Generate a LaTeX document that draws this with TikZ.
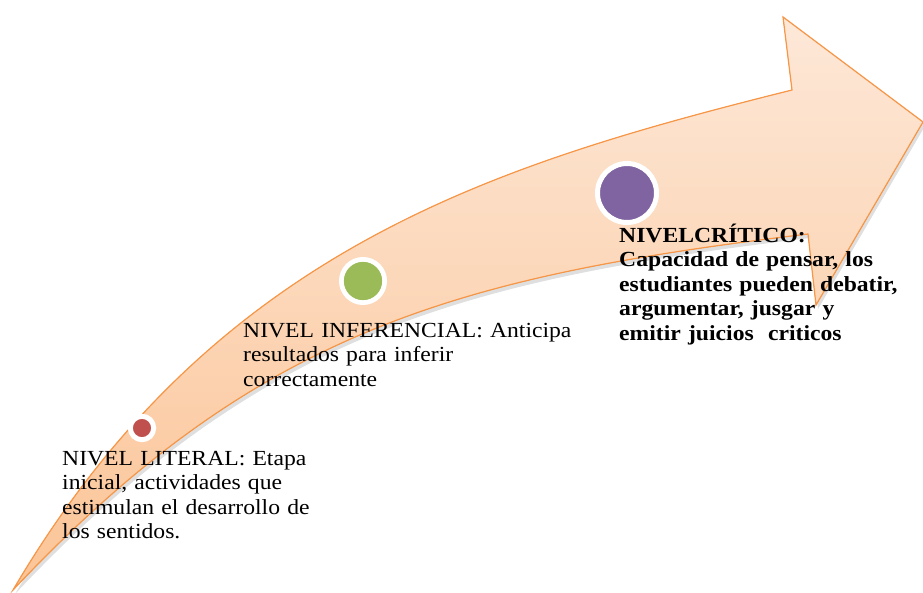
\documentclass[tikz,border=0pt]{standalone}
\usepackage{fontspec}
\setmainfont{Liberation Serif}[FakeStretch=1.1]
\usepackage{tikz}
\usetikzlibrary{shadows}
\definecolor{arrowLine}{RGB}{247,150,70}
\definecolor{arrowTop}{RGB}{253,232,216}
\definecolor{arrowBottom}{RGB}{251,196,150}
\definecolor{dotRed}{RGB}{192,80,77}
\definecolor{dotGreen}{RGB}{155,187,89}
\definecolor{dotViolet}{RGB}{128,100,162}

\begin{document}
\begin{tikzpicture}[x=1pt, y=-1pt,
    dot/.style={circle, draw=white, line width=5pt, inner sep=0pt},
    leveltext/.style={anchor=base west, inner sep=0pt, text width=400pt, align=left,
      font=\fontsize{21.5}{24.6}\selectfont}]

  \useasboundingbox (0,0) rectangle (923,592);

  \coordinate (T) at (13,590);
  \coordinate (A) at (792,90);
  \coordinate (B) at (783,17);
  \coordinate (C) at (923,122);
  \coordinate (D) at (816,305);
  \coordinate (E) at (808,234);

  \filldraw[draw=arrowLine, line width=1.2pt, line join=miter,
    top color=arrowTop, bottom color=arrowBottom,
    drop shadow={opacity=0.25, shadow xshift=2pt, shadow yshift=-4pt}]
    (T) .. controls (213,250) and (492,165) .. (A) -- (B) -- (C) -- (D) -- (E)
    .. controls (458,276) and (258,330) .. (T) -- cycle;

  \node[dot, fill=dotRed, minimum size=23.4pt] (literalDot) at (142,428) {};
  \node[dot, fill=dotGreen, minimum size=43.3pt, line width=4.7pt] (inferencialDot) at (363,281) {};
  \node[dot, fill=dotViolet, minimum size=59pt] (criticoDot) at (627,193) {};

  \node[leveltext] (literal) at (62,465)
    {NIVEL LITERAL: Etapa\\ inicial, actividades que\\ estimulan el desarrollo de\\ los sentidos.};
  \node[leveltext] (inferencial) at (243,337)
    {NIVEL INFERENCIAL: Anticipa\\ resultados para inferir\\ correctamente};
  \node[leveltext, text width=290pt, font=\fontsize{21.5}{24.6}\selectfont\bfseries] (critico) at (619,242)
    {NIVELCRÍTICO:\\ Capacidad de pensar, los\\ estudiantes pueden debatir,\\ argumentar, jusgar y\\ emitir juicios\ \ criticos};

\end{tikzpicture}
\end{document}
